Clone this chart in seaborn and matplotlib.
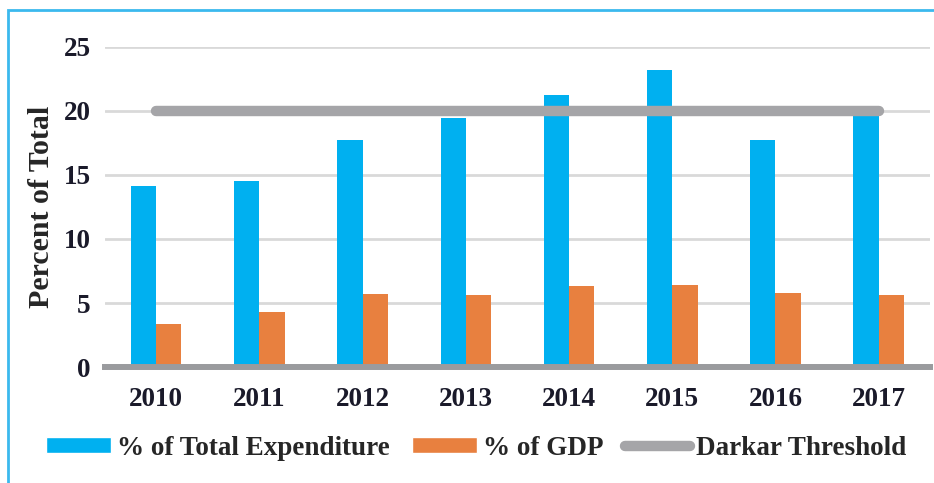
import pandas as pd
import seaborn as sns
import matplotlib.pyplot as plt
from matplotlib.patches import Patch, Rectangle
from matplotlib.lines import Line2D

years = ["2010", "2011", "2012", "2013", "2014", "2015", "2016", "2017"]
pct_expenditure = [14.1, 14.5, 17.7, 19.45, 21.25, 23.2, 17.7, 19.7]
pct_gdp = [3.4, 4.3, 5.7, 5.6, 6.3, 6.4, 5.8, 5.6]
threshold = [20] * len(years)

series_names = ["% of Total Expenditure", "% of GDP"]
colors = ["#00B0F0", "#E8803F"]
gray = "#A5A5A8"

df = pd.DataFrame({
    "year": years * 2,
    "value": pct_expenditure + pct_gdp,
    "series": [series_names[0]] * len(years) + [series_names[1]] * len(years),
})

sns.set_theme(style="white")
plt.rcParams["font.family"] = ["Liberation Serif", "DejaVu Serif"]
plt.rcParams["font.weight"] = "bold"

fig = plt.figure(figsize=(9.34, 4.83), dpi=100)
ax = fig.add_axes([0.112, 0.24, 0.884, 0.663])

sns.barplot(data=df, x="year", y="value", hue="series", order=years,
            palette=colors, width=0.49, gap=0, saturation=1,
            linewidth=0, legend=False, ax=ax)
sns.lineplot(x=years, y=threshold, color=gray, linewidth=7.5,
             solid_capstyle="round", ax=ax, zorder=4)

ax.set_ylim(0, 25)
ax.set_xlim(-0.5, 7.5)
ax.set_yticks([0, 5, 10, 15, 20, 25])
ax.yaxis.grid(True, color="#D9D9D9", linewidth=2)
ax.set_axisbelow(True)
for side in ["top", "right", "left"]:
    ax.spines[side].set_visible(False)
ax.spines["bottom"].set_color("#9A9B9E")
ax.spines["bottom"].set_linewidth(4.3)
ax.spines["bottom"].set_zorder(5)
ax.tick_params(axis="both", length=0, labelsize=19.5, colors="#1a1a2a")
ax.tick_params(axis="x", pad=14)
ax.tick_params(axis="y", pad=10)
ax.set_xlabel("")
ax.set_ylabel("Percent of Total", fontsize=21.5, fontweight="bold", labelpad=6)

handles = [
    Patch(facecolor=colors[0], label=series_names[0]),
    Patch(facecolor=colors[1], label=series_names[1]),
    Line2D([], [], color=gray, linewidth=7.5, solid_capstyle="round",
           label="Darkar Threshold"),
]
fig.legend(handles=handles, loc="center", bbox_to_anchor=(0.51, 0.072),
           ncol=3, frameon=False, fontsize=19.5, handlelength=2.4,
           handleheight=0.55, handletextpad=0.22, columnspacing=0.8)

fig.patches.append(Rectangle((0.009, -0.1), 1.2, 1.08, transform=fig.transFigure,
                             fill=False, edgecolor="#3BB9EE", linewidth=2))

fig.savefig("out.png", dpi=100)
